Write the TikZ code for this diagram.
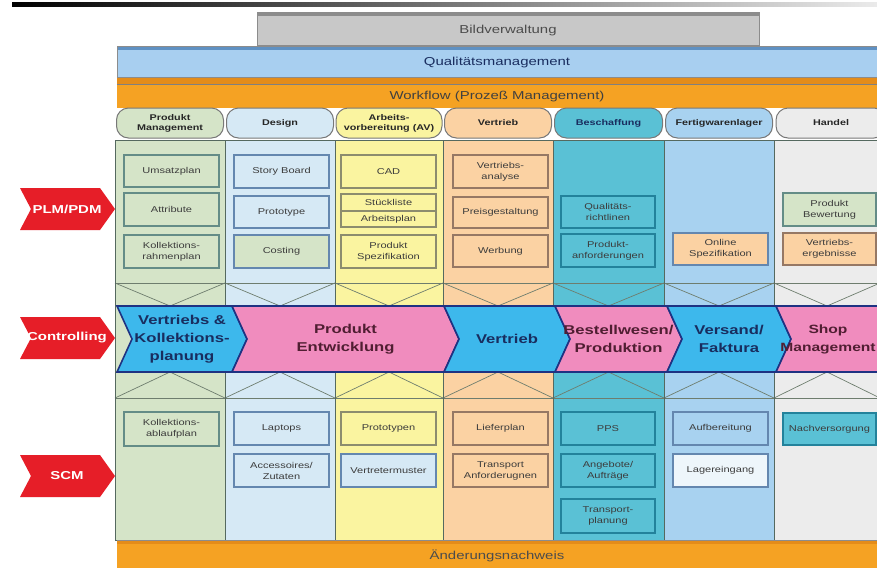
\documentclass[tikz,border=0pt]{standalone}
\usepackage{fontspec}
\setmainfont{Liberation Sans}[FakeStretch=1.3]
\definecolor{cg}{RGB}{213,228,200}
\definecolor{cb}{RGB}{214,233,245}
\definecolor{cy}{RGB}{250,244,160}
\definecolor{co}{RGB}{251,210,163}
\definecolor{ct}{RGB}{90,193,213}
\definecolor{clb}{RGB}{168,210,240}
\definecolor{cgr}{RGB}{236,236,236}
\definecolor{cwl}{RGB}{238,246,251}
\definecolor{bdg}{RGB}{100,140,135}
\definecolor{bdb}{RGB}{100,135,175}
\definecolor{bdy}{RGB}{140,140,110}
\definecolor{bdo}{RGB}{150,120,100}
\definecolor{bdt}{RGB}{35,130,155}
\definecolor{colline}{RGB}{85,105,95}
\definecolor{xcol}{RGB}{110,125,110}
\definecolor{pillbd}{RGB}{120,120,120}
\definecolor{bvfill}{RGB}{200,200,200}
\definecolor{bvtop}{RGB}{140,140,140}
\definecolor{qmfill}{RGB}{168,207,240}
\definecolor{qmtop}{RGB}{95,145,195}
\definecolor{wffill}{RGB}{245,162,35}
\definecolor{wftop}{RGB}{228,140,25}
\definecolor{chblue}{RGB}{61,184,236}
\definecolor{chpink}{RGB}{240,140,190}
\definecolor{chbd}{RGB}{30,50,130}
\definecolor{navytxt}{RGB}{25,45,95}
\definecolor{pinktxt}{RGB}{80,30,50}
\definecolor{labred}{RGB}{230,30,40}
\definecolor{txtd}{RGB}{60,60,60}
\newcommand\bx[8]{\node[boxst, fill=#6, draw=#7, minimum width={#4-#2}, minimum height={#5-#3}] (#1) at ({(#2+#4)/2},{(#3+#5)/2}) {#8};}
\newcommand\chevshape[3]{%
  \draw[chevst, fill=#3] (#1,306) -- (#2,306) -- ({#2+15},339) -- (#2,372) -- (#1,372) -- ({#1+15},339) -- cycle;}
\newcommand\chev[6]{%
  \chevshape{#1}{#2}{#3}%
  \node[chtxt, text=#4] (#5) at ({(#1+#2)/2+7.5},339) {#6};}
\newcommand\redlab[3]{%
  \fill[labred] (20,{#1-21}) -- (100,{#1-21}) -- (115,#1) -- (100,{#1+21}) -- (20,{#1+21}) -- (31,#1) -- cycle;
  \node[redtxt] (#2) at (67,#1) {#3};}
\begin{document}
\begin{tikzpicture}[x=1pt,y=-1pt,
  boxst/.style={line width=1.3pt, inner sep=0pt, align=center, text=txtd,
    font=\fontsize{8.5}{11}\selectfont},
  pill/.style={draw=pillbd, line width=1pt, rounded corners=12pt, minimum height=30,
    inner sep=0pt, align=center, text=black!85, font=\bfseries\fontsize{8.3}{9.8}\selectfont},
  barst/.style={draw=black!45, line width=0.6pt},
  bartxt/.style={font=\fontsize{11.5}{13}\selectfont, inner sep=0pt},
  chevst/.style={draw=chbd, line width=1.6pt, line join=miter},
  chtxt/.style={font=\bfseries\fontsize{12.8}{18}\selectfont, align=center, inner sep=0pt},
  redtxt/.style={text=white, font=\bfseries\fontsize{11.5}{13}\selectfont, inner sep=0pt},
  xline/.style={draw=xcol, line width=0.7pt}]
\useasboundingbox (0,0) rectangle (877,568);
\fill[white] (0,0) rectangle (877,568);
% top rule
\shade[left color=black, right color=black!8] (12,2) rectangle (877,6);
% Bildverwaltung
\fill[bvfill] (257,12) rectangle (759,45);
\fill[bvtop] (257,12) rectangle (759,16);
\draw[barst] (257,12) rectangle (759,45);
\node[bartxt, text=black!70] (bv) at (508,31) {Bildverwaltung};
% Qualitaetsmanagement
\fill[qmfill] (117,46) rectangle (880,77);
\fill[qmtop] (117,46) rectangle (880,50);
\draw[barst] (117,46) rectangle (880,77);
\node[bartxt, text=navytxt] (qm) at (497,63) {Qualitätsmanagement};
% Workflow
\fill[wffill] (117,78) rectangle (880,108);
\fill[wftop] (117,78) rectangle (880,84);
\draw[draw=black!50, line width=0.8pt] (117,84) -- (880,84);
\node[bartxt, text=black!75] (wf) at (497,97) {Workflow (Prozeß Management)};
% columns
\foreach \l/\r/\c in {115/225/cg,225/335/cb,335/443/cy,443/553/co,553/664/ct,664/774/clb,774/880/cgr} {
  \fill[\c] (\l,140) rectangle (\r,540);
  \draw[xline] (\l,283) -- ({(\l+\r)/2},306) -- (\r,283);
  \draw[xline] (\l,398) -- ({(\l+\r)/2},372) -- (\r,398);
  \draw[xline] (\l,283) -- (\r,283);
  \draw[xline] (\l,398) -- (\r,398);
  \draw[draw=colline, line width=1pt] (\l,140) rectangle (\r,540);
}
% headers
\node[pill, fill=cg, minimum width=107] (h1) at (170,123) {Produkt\\Management};
\node[pill, fill=cb, minimum width=107] (h2) at (280,123) {Design};
\node[pill, fill=cy, minimum width=106] (h3) at (389,123) {Arbeits-\\vorbereitung (AV)};
\node[pill, fill=co, minimum width=107] (h4) at (498,123) {Vertrieb};
\node[pill, fill=ct, minimum width=108, text=navytxt] (h5) at (608.5,123) {Beschaffung};
\node[pill, fill=clb, minimum width=107] (h6) at (719,123) {Fertigwarenlager};
\node[pill, fill=cgr, minimum width=110] (h7) at (831,123) {Handel};
% upper boxes
\bx{u11}{124}{155}{219}{187}{cg}{bdg}{Umsatzplan}
\bx{u12}{124}{193}{219}{226}{cg}{bdg}{Attribute}
\bx{u13}{124}{235}{219}{268}{cg}{bdg}{Kollektions-\\rahmenplan}
\bx{u21}{234}{155}{329}{188}{cb}{bdb}{Story Board}
\bx{u22}{234}{196}{329}{228}{cb}{bdb}{Prototype}
\bx{u23}{234}{235}{329}{268}{cg}{bdb}{Costing}
\bx{u31}{341}{155}{436}{188}{cy}{bdy}{CAD}
\bx{u32}{341}{194}{436}{211}{cy}{bdy}{Stückliste}
\bx{u33}{341}{211}{436}{227}{cy}{bdy}{Arbeitsplan}
\bx{u34}{341}{235}{436}{268}{cy}{bdy}{Produkt\\Spezifikation}
\bx{u41}{453}{155}{548}{188}{co}{bdo}{Vertriebs-\\analyse}
\bx{u42}{453}{197}{548}{228}{co}{bdo}{Preisgestaltung}
\bx{u43}{453}{235}{548}{267}{co}{bdo}{Werbung}
\bx{u51}{561}{196}{655}{228}{ct}{bdt}{Qualitäts-\\richtlinen}
\bx{u52}{561}{234}{655}{267}{ct}{bdt}{Produkt-\\anforderungen}
\bx{u61}{673}{233}{768}{265}{co}{bdb}{Online\\Spezifikation}
\bx{u71}{783}{193}{876}{226}{cg}{bdg}{Produkt\\Bewertung}
\bx{u72}{783}{233}{876}{265}{co}{bdo}{Vertriebs-\\ergebnisse}
% chevrons
\chev{117}{232}{chblue}{navytxt}{c1}{Vertriebs \&\\Kollektions-\\planung}
\chev{232}{444}{chpink}{pinktxt}{c2}{Produkt\\Entwicklung}
\chev{444}{555}{chblue}{navytxt}{c3}{Vertrieb}
\chev{555}{667}{chpink}{pinktxt}{c4}{Bestellwesen/\\Produktion}
\chev{667}{776}{chblue}{navytxt}{c5}{Versand/\\Faktura}
\chevshape{776}{895}{chpink}
\node[chtxt, text=pinktxt, font=\bfseries\fontsize{12}{18}\selectfont] (c6) at (828,339) {Shop\\Management};
% lower boxes
\bx{l11}{124}{412}{219}{446}{cg}{bdg}{Kollektions-\\ablaufplan}
\bx{l21}{234}{412}{329}{445}{cb}{bdb}{Laptops}
\bx{l22}{234}{454}{329}{487}{cb}{bdb}{Accessoires/\\Zutaten}
\bx{l31}{341}{412}{436}{445}{cy}{bdy}{Prototypen}
\bx{l32}{341}{454}{436}{487}{cb}{bdb}{Vertretermuster}
\bx{l41}{453}{412}{548}{445}{co}{bdo}{Lieferplan}
\bx{l42}{453}{454}{548}{487}{co}{bdo}{Transport\\Anforderugnen}
\bx{l51}{561}{412}{655}{445}{ct}{bdt}{PPS}
\bx{l52}{561}{454}{655}{487}{ct}{bdt}{Angebote/\\Aufträge}
\bx{l53}{561}{499}{655}{533}{ct}{bdt}{Transport-\\planung}
\bx{l61}{673}{412}{768}{445}{clb}{bdb}{Aufbereitung}
\bx{l62}{673}{454}{768}{487}{cwl}{bdb}{Lagereingang}
\bx{l71}{783}{413}{876}{445}{ct}{bdt}{Nachversorgung}
% bottom bar
\fill[wffill] (117,540) rectangle (880,568);
\fill[wftop] (117,540) rectangle (880,544);
\draw[draw=black!45, line width=0.6pt] (117,540) -- (880,540);
\node[bartxt, text=black!70] (an) at (497,556) {Änderungsnachweis};
% red labels
\redlab{209}{plm}{PLM/PDM}
\redlab{338}{ctl}{Controlling}
\redlab{476}{scm}{SCM}
\end{tikzpicture}
\end{document}
